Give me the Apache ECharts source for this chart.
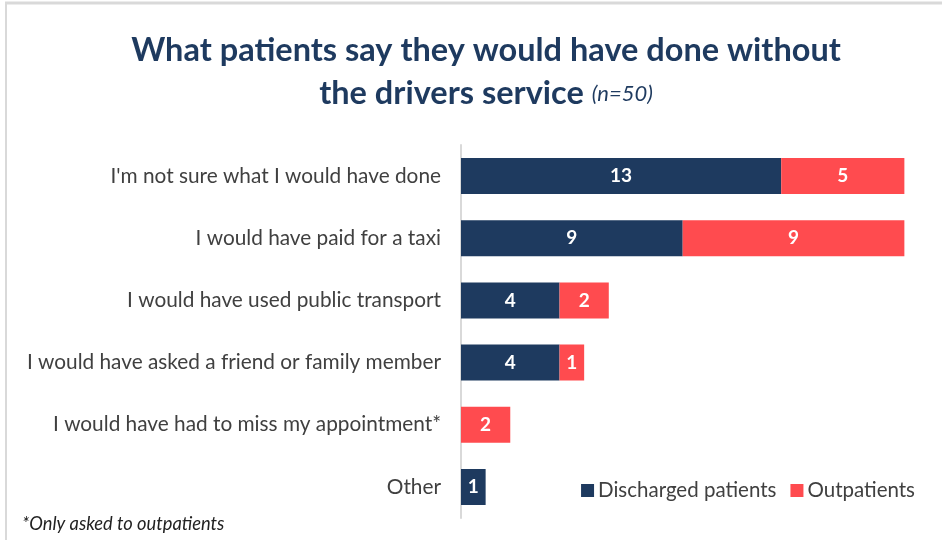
<!DOCTYPE html>
<html>
<head>
<meta charset="utf-8">
<script src="https://cdn.jsdelivr.net/npm/echarts@6/dist/echarts.min.js"></script>
<style>
  html, body { margin: 0; padding: 0; background: #fff; }
  #chart { width: 942px; height: 540px; }
</style>
</head>
<body>
<div id="chart"></div>
<script>
// Data
const categories = [
  "I'm not sure what I would have done",
  'I would have paid for a taxi',
  'I would have used public transport',
  'I would have asked a friend or family member',
  'I would have had to miss my appointment*',
  'Other'
];
const discharged = [13, 9, 4, 4, 0, 1];
const outpatients = [5, 9, 2, 1, 2, 0];

const navy = '#1e3a5f';
const red = '#ff4b4f';
const font = 'Lato';

const chart = echarts.init(document.getElementById('chart'));

const barLabel = {
  show: true,
  color: '#fff',
  fontWeight: 'bold',
  fontSize: 19,
  fontFamily: font,
  formatter: (p) => (p.value === 0 ? '' : p.value)
};

chart.setOption({
  backgroundColor: '#fff',
  animation: false,
  title: {
    text: 'What patients say they would have done without\nthe drivers service {n|(n=50)}',
    left: 481,
    textAlign: 'center',
    top: 24,
    textStyle: {
      fontFamily: font,
      fontSize: 32.5,
      fontWeight: 'bold',
      color: navy,
      lineHeight: 43,
      rich: {
        n: { fontFamily: font, fontSize: 22, fontStyle: 'italic', fontWeight: 'normal', color: navy }
      }
    }
  },
  legend: {
    data: ['Discharged patients', 'Outpatients'],
    right: 22,
    top: 475,
    itemWidth: 13,
    itemHeight: 13,
    itemGap: 14,
    icon: 'rect',
    textStyle: { fontFamily: font, fontSize: 20.5, color: '#404040', padding: [0, 0, 0, -1] }
  },
  grid: { left: 461, right: 13, top: 145, bottom: 22 },
  xAxis: {
    type: 'value',
    min: 0,
    max: 19,
    show: false
  },
  yAxis: {
    type: 'category',
    inverse: true,
    data: categories,
    axisLine: { show: true, lineStyle: { color: '#d9d9d9', width: 2 } },
    axisTick: { show: false },
    axisLabel: { fontFamily: font, fontSize: 20.8, color: '#404040', margin: 20 }
  },
  series: [
    {
      name: 'Discharged patients',
      type: 'bar',
      stack: 'total',
      data: discharged,
      barCategoryGap: '42%',
      itemStyle: { color: navy },
      label: barLabel
    },
    {
      name: 'Outpatients',
      type: 'bar',
      stack: 'total',
      data: outpatients,
      itemStyle: { color: red },
      label: barLabel
    }
  ],
  graphic: [
    { type: 'line', shape: { x1: 5, y1: 3, x2: 942, y2: 3 }, style: { stroke: '#d9d9d9', lineWidth: 3 } },
    { type: 'line', shape: { x1: 6, y1: 3, x2: 6, y2: 540 }, style: { stroke: '#d9d9d9', lineWidth: 2 } },
    {
      type: 'text',
      left: 22,
      top: 515,
      style: { text: '*Only asked to outpatients', fontFamily: font, fontSize: 18.3, fontStyle: 'italic', fill: '#222' }
    }
  ]
});

window.addEventListener('resize', () => chart.resize());
</script>
</body>
</html>
